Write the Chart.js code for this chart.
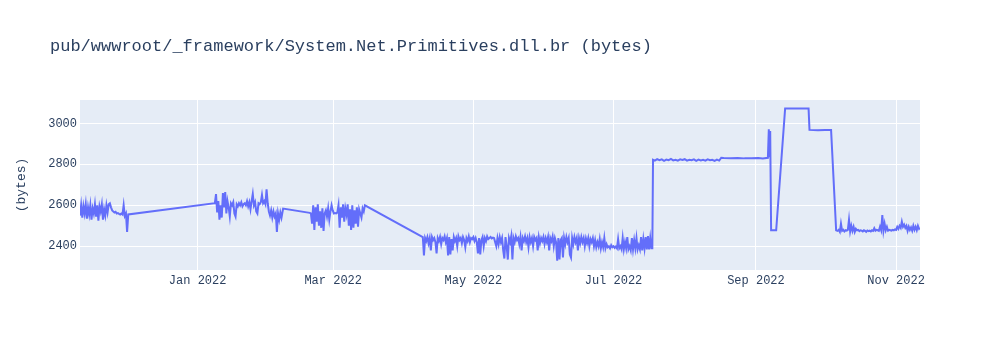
<!DOCTYPE html>
<html>
<head>
<meta charset="utf-8">
<script src="https://cdn.jsdelivr.net/npm/chart.js@4.4.1/dist/chart.umd.min.js"></script>
<style>
  html, body { margin: 0; padding: 0; background: #ffffff; }
  #wrap { width: 1000px; height: 350px; position: relative; }
</style>
</head>
<body>
<div id="wrap"><canvas id="c" width="1000" height="350"></canvas></div>
<script>
const chartTitle = "pub/wwwroot/_framework/System.Net.Primitives.dll.br (bytes)";
const yAxisTitle = "(bytes)";

// x values: days relative to 1 Jan 2022
const tickDays = [0, 59, 120, 181, 243, 304];
const tickLabels = ["Jan 2022", "Mar 2022", "May 2022", "Jul 2022", "Sep 2022", "Nov 2022"];
const yTicks = [2400, 2600, 2800, 3000];

// Nov 2021 noisy period
const days1 = [-51.2,-50.7,-50.2,-49.7,-49.2,-48.7,-48.2,-47.7,-47.2,-46.7,-46.2,-45.7,-45.2,-44.7,-44.2,-43.7,-43.2,-42.7,-42.2,-41.7,-41.2,-40.7,-40.2,-39.7,-39.2,-38.7,-38.2,-37.7,-37.2,-36.7,-36.2,-35.7,-35.2,-34.7,-34.2,-33.7,-33.2,-32.7,-32.2,-31.7,-31.2,-30.7,-30.2];
const bytes1 = [2550,2600,2540,2595,2560,2605,2535,2590,2555,2600,2530,2585,2560,2605,2545,2600,2525,2595,2570,2605,2530,2580,2550,2600,2565,2605,2610,2590,2575,2570,2565,2568,2560,2562,2558,2555,2560,2555,2600,2548,2560,2470,2555];

// Jan-Feb 2022
const days2 = [7.5,8,8.5,9,9.5,10,10.5,11,11.5,12,12.5,13,13.5,14,14.5,15,15.5,16,16.5,17,17.5,18,18.5,19,19.5,20,20.5,21,21.5,22,22.5,23,23.5,24,24.5,25,25.5,26,26.5,27,27.5,28,28.5,29,29.5,30,30.5,31,31.5,32,32.5,33,33.5,34,34.5,35,35.5,36,36.5,37.2];
const bytes2 = [2610,2655,2565,2620,2530,2600,2540,2660,2590,2665,2560,2620,2590,2545,2610,2600,2615,2560,2545,2605,2595,2610,2600,2615,2595,2605,2610,2600,2620,2595,2615,2580,2620,2655,2600,2615,2570,2560,2610,2605,2615,2650,2610,2620,2605,2678,2610,2570,2550,2575,2540,2570,2545,2560,2470,2560,2530,2565,2540,2584];

// Feb-Mar 2022
const days3 = [48.8,49.3,49.8,50.3,50.8,51.3,51.8,52.3,52.8,53.3,53.8,54.3,54.8,55.3,55.8,56.3,56.8,57.3,57.8,58.3,58.8,59.3,59.8,60.3,60.8,61.3,61.8,62.3,62.8,63.3,63.8,64.3,64.8,65.3,65.8,66.3,66.8,67.3,67.8,68.3,68.8,69.3,69.8,70.3,70.8,71.3,71.8,72.3,72.8];
const bytes3 = [2563,2560,2510,2600,2480,2590,2520,2605,2500,2570,2490,2585,2475,2560,2575,2545,2585,2530,2570,2600,2575,2560,2562,2560,2565,2600,2490,2590,2540,2605,2520,2585,2555,2605,2500,2580,2480,2600,2490,2575,2510,2590,2495,2580,2560,2540,2585,2570,2600];

// Apr-Jul 2022
const days4 = [98,98.5,99,99.5,100,100.5,101,101.5,102,102.5,103,103.5,104,104.5,105,105.5,106,106.5,107,107.5,108,108.5,109,109.5,110,110.5,111,111.5,112,112.5,113,113.5,114,114.5,115,115.5,116,116.5,117,117.5,118,118.5,119,119.5,120,120.5,121,121.5,122,122.5,123,123.5,124,124.5,125,125.5,126,126.5,127,127.5,128,128.5,129,129.5,130,130.5,131,131.5,132,132.5,133,133.5,134,134.5,135,135.5,136,136.5,137,137.5,138,138.5,139,139.5,140,140.5,141,141.5,142,142.5,143,143.5,144,144.5,145,145.5,146,146.5,147,147.5,148,148.5,149,149.5,150,150.5,151,151.5,152,152.5,153,153.5,154,154.5,155,155.5,156,156.5,157,157.5,158,158.5,159,159.5,160,160.5,161,161.5,162,162.5,163,163.5,164,164.5,165,165.5,166,166.5,167,167.5,168,168.5,169,169.5,170,170.5,171,171.5,172,172.5,173,173.5,174,174.5,175,175.5,176,176.5,177,177.5,178,178.5,179,179.5,180,180.5,181,181.5,182,182.5,183,183.5,184,184.5,185,185.5,186,186.5,187,187.5,188,188.5,189,189.5,190,190.5,191,191.5,192,192.5,193,193.5,194,194.5,195,195.5,196,196.5,197,197.5,197.9];
const bytes4 = [2445,2355,2440,2425,2445,2415,2440,2380,2445,2430,2440,2420,2365,2440,2425,2445,2410,2440,2430,2448,2420,2440,2355,2445,2360,2435,2380,2445,2425,2440,2400,2448,2430,2440,2415,2445,2430,2395,2440,2425,2448,2420,2440,2435,2445,2425,2440,2420,2365,2440,2360,2430,2445,2400,2440,2425,2448,2435,2440,2445,2438,2442,2440,2420,2400,2440,2410,2445,2420,2440,2380,2340,2445,2400,2335,2440,2420,2450,2335,2440,2420,2448,2430,2440,2410,2445,2380,2440,2425,2448,2420,2440,2395,2445,2420,2440,2400,2445,2430,2440,2380,2445,2415,2440,2425,2445,2410,2440,2420,2445,2380,2440,2425,2448,2400,2440,2420,2330,2440,2335,2430,2440,2345,2440,2410,2445,2420,2440,2360,2345,2440,2410,2445,2420,2440,2380,2440,2415,2445,2420,2440,2400,2438,2415,2440,2400,2435,2420,2440,2400,2430,2395,2420,2400,2435,2390,2420,2395,2440,2390,2410,2395,2400,2390,2405,2395,2400,2392,2398,2390,2435,2390,2400,2385,2440,2385,2420,2390,2445,2385,2400,2380,2440,2385,2430,2390,2440,2385,2405,2385,2445,2380,2435,2390,2445,2385,2450,2385,2440,2390,2390];

// Jul-Oct 2022
const days5 = [198.2,199,200,201,202,203,204,205,206,207,208,209,210,211,212,213,214,215,216,217,218,219,220,221,222,223,224,225,226,227,227.9,229,232,235,238,241,244,246,248.2,248.6,248.9,249.2,249.6,251.8,255.7,265.9,266.3,270,273,275.7];
const bytes5 = [2822,2818,2825,2820,2824,2817,2823,2820,2826,2819,2822,2818,2824,2821,2825,2818,2822,2820,2824,2817,2823,2819,2822,2818,2824,2820,2822,2817,2823,2818,2832,2831,2830,2831,2829,2830,2831,2829,2832,2971,2835,2962,2478,2478,3073,3073,2968,2966,2968,2968];

// Oct-Nov 2022
const days6 = [277.9,278.5,279,279.5,280,280.5,281,281.5,282,282.5,283,283.5,284,284.5,285,285.5,286,286.5,287,287.5,288,288.5,289,289.5,290,290.5,291,291.5,292,292.5,293,293.5,294,294.5,295,295.5,296,296.5,297,297.5,298,298.5,299,299.5,300,300.5,301,301.5,302,302.5,303,303.5,304,304.5,305,305.5,306,306.5,307,307.5,308,308.5,309,309.5,310,310.5,311,311.5,312,312.5,313,313.5,314,314.4];
const bytes6 = [2478,2475,2480,2470,2510,2475,2480,2472,2478,2476,2480,2530,2472,2500,2475,2495,2470,2485,2478,2480,2474,2478,2476,2472,2478,2475,2470,2477,2474,2476,2472,2478,2475,2488,2476,2480,2478,2475,2495,2478,2552,2475,2510,2478,2495,2476,2480,2478,2476,2480,2478,2482,2480,2495,2485,2500,2490,2520,2495,2505,2490,2500,2475,2495,2480,2492,2476,2500,2480,2495,2478,2500,2485,2490];

const allDays = [].concat(days1, days2, days3, days4, days5, days6);
const allBytes = [].concat(bytes1, bytes2, bytes3, bytes4, bytes5, bytes6);
const points = allDays.map((d, i) => ({ x: d, y: allBytes[i] }));

const FONT = '"Courier New", "Liberation Mono", monospace';
const TEXT = '#2a3f5f';

const plotBg = {
  id: 'plotBg',
  beforeDraw(chart) {
    const { ctx, chartArea: a } = chart;
    ctx.save();
    ctx.fillStyle = '#E5ECF6';
    ctx.fillRect(a.left, a.top, a.right - a.left, a.bottom - a.top);
    ctx.restore();
  }
};

const titleDraw = {
  id: 'titleDraw',
  afterDraw(chart) {
    const ctx = chart.ctx;
    ctx.save();
    ctx.font = '17px ' + FONT;
    ctx.fillStyle = TEXT;
    ctx.textBaseline = 'middle';
    ctx.textAlign = 'left';
    ctx.fillText(chartTitle, 50, 46);
    ctx.restore();
  }
};

new Chart(document.getElementById('c'), {
  type: 'line',
  data: {
    datasets: [{
      data: points,
      borderColor: '#636efa',
      borderWidth: 2,
      pointRadius: 0,
      tension: 0,
      fill: false
    }]
  },
  options: {
    responsive: false,
    animation: false,
    events: [],
    layout: { padding: { left: 0, right: 80, top: 100, bottom: 0 } },
    plugins: {
      legend: { display: false },
      title: { display: false },
      tooltip: { enabled: false }
    },
    scales: {
      x: {
        type: 'linear',
        min: -51.2,
        max: 314.4,
        afterBuildTicks(scale) { scale.ticks = tickDays.map(v => ({ value: v })); },
        afterFit(scale) { scale.height = 80; },
        ticks: {
          autoSkip: false,
          maxRotation: 0,
          padding: 4,
          color: TEXT,
          font: { family: FONT, size: 12 },
          callback(value) {
            const i = tickDays.indexOf(value);
            return i >= 0 ? tickLabels[i] : '';
          }
        },
        grid: { color: '#ffffff', lineWidth: 1, drawTicks: false },
        border: { display: false }
      },
      y: {
        type: 'linear',
        min: 2284,
        max: 3114,
        afterBuildTicks(scale) { scale.ticks = yTicks.map(v => ({ value: v })); },
        afterFit(scale) { scale.width = 80; },
        ticks: {
          padding: 3,
          color: TEXT,
          font: { family: FONT, size: 12 },
          callback(value) { return String(value); }
        },
        title: {
          display: true,
          text: yAxisTitle,
          color: TEXT,
          font: { family: FONT, size: 13 },
          padding: { top: 14, bottom: 0 }
        },
        grid: { color: '#ffffff', lineWidth: 1, drawTicks: false },
        border: { display: false }
      }
    }
  },
  plugins: [plotBg, titleDraw]
});
</script>
</body>
</html>
